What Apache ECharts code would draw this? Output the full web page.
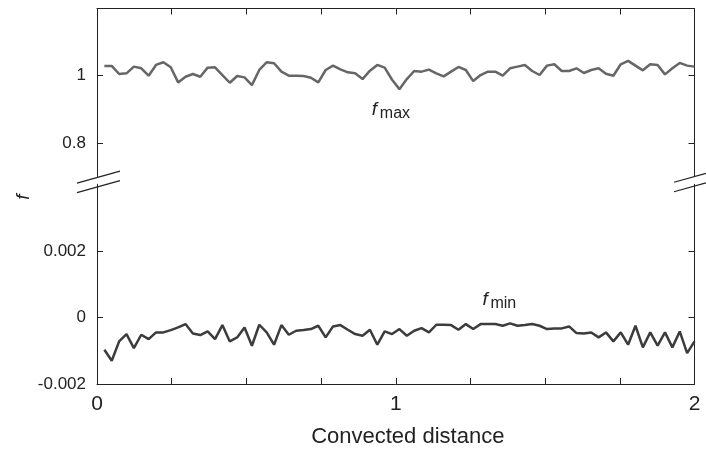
<!DOCTYPE html>
<html>
<head>
<meta charset="utf-8">
<title>f vs convected distance</title>
<script src="https://cdn.jsdelivr.net/npm/echarts@6/dist/echarts.min.js"></script>
<style>
  html, body { margin: 0; padding: 0; background: #fff; }
  #main { width: 706px; height: 449px; }
</style>
</head>
<body>
<div id="main"></div>
<script>
// values, one sample every 2/81 of convected distance
var fMax = [
  1.029, 1.029, 1.005, 1.007, 1.027, 1.022, 1.000, 1.032, 1.040, 1.025,
  0.980, 0.997, 1.005, 0.997, 1.024, 1.025, 1.002, 0.979, 0.999, 0.995,
  0.972, 1.017, 1.040, 1.037, 1.012, 1.000, 1.000, 0.999, 0.994, 0.980,
  1.017, 1.030, 1.019, 1.010, 1.007, 0.990, 1.015, 1.032, 1.024, 0.988,
  0.960, 0.990, 1.014, 1.012, 1.018, 1.007, 0.998, 1.012, 1.026, 1.017,
  0.984, 1.002, 1.012, 1.012, 1.000, 1.022, 1.027, 1.032, 1.014, 1.002,
  1.030, 1.034, 1.014, 1.014, 1.022, 1.008, 1.017, 1.022, 1.006, 1.000,
  1.034, 1.044, 1.030, 1.016, 1.034, 1.032, 1.004, 1.022, 1.038, 1.030,
  1.027
];
var fMin = [
  -0.00097, -0.00130, -0.00072, -0.00050, -0.00092, -0.00052, -0.00065, -0.00045, -0.00045, -0.00038,
  -0.00030, -0.00020, -0.00048, -0.00053, -0.00042, -0.00065, -0.00023, -0.00072, -0.00060, -0.00030,
  -0.00085, -0.00022, -0.00045, -0.00082, -0.00023, -0.00052, -0.00040, -0.00038, -0.00035, -0.00025,
  -0.00060, -0.00027, -0.00023, -0.00037, -0.00050, -0.00055, -0.00037, -0.00082, -0.00042, -0.00050,
  -0.00035, -0.00055, -0.00040, -0.00032, -0.00045, -0.00022, -0.00022, -0.00023, -0.00037, -0.00020,
  -0.00035, -0.00020, -0.00020, -0.00020, -0.00025, -0.00018, -0.00025, -0.00023, -0.00020, -0.00025,
  -0.00035, -0.00033, -0.00033, -0.00027, -0.00047, -0.00048, -0.00045, -0.00060, -0.00045, -0.00072,
  -0.00045, -0.00082, -0.00025, -0.00090, -0.00045, -0.00085, -0.00045, -0.00090, -0.00042, -0.00107,
  -0.00072
];
var xStep = 2 / 81;
var xLabels = [0, 1, 2];
var topTicks = [0.8, 1];
var bottomTicks = [-0.002, 0, 0.002];

var font = '"Liberation Sans", Arial, sans-serif';
var ink = '#222';

function pairs(vals) {
  return vals.map(function (v, i) { return [(i + 1) * xStep, v]; });
}

var chart = echarts.init(document.getElementById('main'));

var xCommon = {
  type: 'value', min: 0, max: 2, interval: 0.25,
  axisLine: { show: true, onZero: false, lineStyle: { color: ink, width: 1 } },
  axisTick: { show: true, inside: true, length: 6, lineStyle: { color: ink } },
  splitLine: { show: false }
};

var option = {
  animation: false,
  backgroundColor: '#fff',
  grid: [
    { left: 97, right: 11.5, top: 8.5, height: 168 },
    { left: 97, right: 11.5, top: 184.3, height: 200.7 }
  ],
  xAxis: [
    Object.assign({}, xCommon, {
      gridIndex: 0, position: 'top',
      axisLabel: { show: false }
    }),
    Object.assign({}, xCommon, {
      gridIndex: 1, position: 'bottom',
      name: 'Convected distance', nameLocation: 'middle', nameGap: 42,
      nameTextStyle: { color: ink, fontSize: 22, fontFamily: font, padding: [0, 0, 0, 24] },
      axisLabel: {
        color: ink, fontSize: 21, fontFamily: font, margin: 10,
        formatter: function (v) { return xLabels.indexOf(v) >= 0 ? String(v) : ''; }
      }
    })
  ],
  yAxis: [
    {
      type: 'value', gridIndex: 0, min: 0.7, max: 1.2, position: 'left',
      axisLine: { show: true, onZero: false, lineStyle: { color: ink } },
      axisTick: { show: true, inside: true, length: 6, customValues: topTicks, lineStyle: { color: ink } },
      axisLabel: { color: ink, fontSize: 17, fontFamily: font, margin: 11, customValues: topTicks },
      splitLine: { show: false }
    },
    {
      type: 'value', gridIndex: 0, min: 0.7, max: 1.2, position: 'right',
      axisLine: { show: true, onZero: false, lineStyle: { color: ink } },
      axisTick: { show: true, inside: true, length: 6, customValues: topTicks, lineStyle: { color: ink } },
      axisLabel: { show: false },
      splitLine: { show: false }
    },
    {
      type: 'value', gridIndex: 1, min: -0.002, max: 0.004, position: 'left',
      axisLine: { show: true, onZero: false, lineStyle: { color: ink } },
      axisTick: { show: true, inside: true, length: 6, customValues: bottomTicks, lineStyle: { color: ink } },
      axisLabel: { color: ink, fontSize: 17, fontFamily: font, margin: 11, customValues: bottomTicks },
      splitLine: { show: false }
    },
    {
      type: 'value', gridIndex: 1, min: -0.002, max: 0.004, position: 'right',
      axisLine: { show: true, onZero: false, lineStyle: { color: ink } },
      axisTick: { show: true, inside: true, length: 6, customValues: bottomTicks, lineStyle: { color: ink } },
      axisLabel: { show: false },
      splitLine: { show: false }
    }
  ],
  series: [
    {
      name: 'fmax', type: 'line', xAxisIndex: 0, yAxisIndex: 0,
      data: pairs(fMax), showSymbol: false, symbol: 'none',
      lineStyle: { color: '#666', width: 2.5 }
    },
    {
      name: 'fmin', type: 'line', xAxisIndex: 1, yAxisIndex: 2,
      data: pairs(fMin), showSymbol: false, symbol: 'none',
      lineStyle: { color: '#3c3c3c', width: 2.5 }
    }
  ]
};

chart.setOption(option);

// annotations placed from data coordinates
function subLabel(gridIndex, anchor, sub) {
  var p = chart.convertToPixel({ gridIndex: gridIndex }, anchor);
  return [
    { type: 'text', x: p[0], y: p[1],
      style: { text: 'f', fill: ink, fontSize: 19, fontStyle: 'italic', fontFamily: font,
               align: 'left', verticalAlign: 'middle' } },
    { type: 'text', x: p[0] + 8, y: p[1] + 4,
      style: { text: sub, fill: ink, fontSize: 16, fontFamily: font,
               align: 'left', verticalAlign: 'middle' } }
  ];
}

// break marks across the left and right axes
function breakMark(x0, x1, yc, xc) {
  var k = -0.28;
  return {
    type: 'line',
    shape: { x1: x0, y1: yc + k * (x0 - xc), x2: x1, y2: yc + k * (x1 - xc) },
    style: { stroke: ink, lineWidth: 1.2 }
  };
}

var graphics = []
  .concat(subLabel(0, [0.92, 0.9], 'max'))
  .concat(subLabel(1, [1.29, 0.00054], 'min'))
  .concat([
    breakMark(77, 120, 177.5, 97),
    breakMark(77, 120, 187, 97),
    breakMark(674, 706, 176.5, 694.5),
    breakMark(674, 706, 186, 694.5),
    { type: 'text', x: 23.5, y: 197, rotation: Math.PI / 2,
      style: { text: 'f', fill: ink, fontSize: 19, fontStyle: 'italic', fontFamily: font,
               align: 'center', verticalAlign: 'middle' } }
  ]);

chart.setOption({ graphic: graphics });
</script>
</body>
</html>
